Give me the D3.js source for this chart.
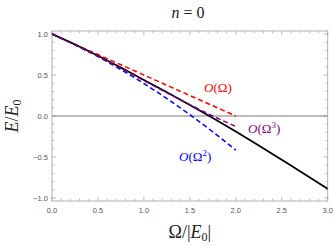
<!DOCTYPE html>
<html><head><meta charset="utf-8">
<script src="https://cdn.jsdelivr.net/npm/d3@7"></script>
<style>html,body{margin:0;padding:0;background:#fff;}svg{display:block;}</style>
</head><body>
<script>
// ---- data ----
const exactX = [0, 0.25, 0.5, 0.75, 1.0, 1.25, 1.5, 1.75, 2.0, 2.25, 2.5, 2.75, 3.0];
const exactY = [1.0, 0.872, 0.735, 0.59, 0.44, 0.29, 0.135, -0.025, -0.19, -0.36, -0.535, -0.71, -0.89];
const seriesX = [0, 0.25, 0.5, 0.75, 1.0, 1.25, 1.5, 1.75, 2.0];
const order1Y = [1.0, 0.875, 0.75, 0.625, 0.5, 0.375, 0.25, 0.125, 0.0];
const order2Y = [1.0, 0.8685, 0.724, 0.5665, 0.396, 0.2125, 0.016, -0.1935, -0.416];
const order3Y = [1.0, 0.869, 0.7285, 0.582, 0.432, 0.283, 0.138, 0.0, -0.128];
const xTicks = [0, 0.5, 1.0, 1.5, 2.0, 2.5, 3.0];
const yTicks = [-1.0, -0.5, 0.0, 0.5, 1.0];
const xTickLabels = ["0.0", "0.5", "1.0", "1.5", "2.0", "2.5", "3.0"];
const yTickLabels = ["\u22121.0", "\u22120.5", "0.0", "0.5", "1.0"];

const W = 334, H = 246;
const L = 52, R = 327.7, T = 31, B = 201;
const svg = d3.select("body").append("svg").attr("width", W).attr("height", H);
const x = d3.scaleLinear().domain([0, 3]).range([L, R]);
const y = d3.scaleLinear().domain([-1.037, 1.037]).range([B, T]);

const frameCol = "#a8a8a8";
// minor ticks
const xMinor = d3.range(0, 3.001, 0.1).filter(v => Math.abs(v*2 - Math.round(v*2)) > 1e-6);
const yMinor = d3.range(-1.0, 1.001, 0.1).filter(v => Math.abs(v*2 - Math.round(v*2)) > 1e-6);
const tg = svg.append("g").attr("stroke", frameCol).attr("stroke-width", 0.8);
xTicks.forEach(v => {
  tg.append("line").attr("x1", x(v)).attr("x2", x(v)).attr("y1", B).attr("y2", B-4);
  tg.append("line").attr("x1", x(v)).attr("x2", x(v)).attr("y1", T).attr("y2", T+4);
});
xMinor.forEach(v => {
  tg.append("line").attr("x1", x(v)).attr("x2", x(v)).attr("y1", B).attr("y2", B-2.2);
  tg.append("line").attr("x1", x(v)).attr("x2", x(v)).attr("y1", T).attr("y2", T+2.2);
});
yTicks.forEach(v => {
  tg.append("line").attr("x1", L).attr("x2", L+4).attr("y1", y(v)).attr("y2", y(v));
  tg.append("line").attr("x1", R).attr("x2", R-4).attr("y1", y(v)).attr("y2", y(v));
});
yMinor.forEach(v => {
  tg.append("line").attr("x1", L).attr("x2", L+2.2).attr("y1", y(v)).attr("y2", y(v));
  tg.append("line").attr("x1", R).attr("x2", R-2.2).attr("y1", y(v)).attr("y2", y(v));
});

// zero line
svg.append("line").attr("x1", L).attr("x2", R).attr("y1", y(0)).attr("y2", y(0))
  .attr("stroke", "#7a7a7a").attr("stroke-width", 1);

// frame
svg.append("rect").attr("x", L).attr("y", T).attr("width", R-L).attr("height", B-T)
  .attr("fill", "none").attr("stroke", frameCol).attr("stroke-width", 0.9);

// tick labels
const lab = svg.append("g").attr("font-family", "'Liberation Sans', Arial, sans-serif")
  .attr("font-size", 7.5).attr("fill", "#555");
xTicks.forEach((v, i) => lab.append("text").attr("x", x(v)).attr("y", B+12)
  .attr("text-anchor", "middle").text(xTickLabels[i]));
yTicks.forEach((v, i) => lab.append("text").attr("x", L-4).attr("y", y(v)+2.7)
  .attr("text-anchor", "end").text(yTickLabels[i]));

// curves
const clip = svg.append("clipPath").attr("id", "c").append("rect")
  .attr("x", L).attr("y", T).attr("width", R-L).attr("height", B-T);
const line = d3.line().x(d => x(d[0])).y(d => y(d[1])).curve(d3.curveMonotoneX);
const g = svg.append("g").attr("clip-path", "url(#c)").attr("fill", "none");
const zip = (xs, ys) => xs.map((v, i) => [v, ys[i]]);
g.append("path").attr("d", line(zip(seriesX, order1Y))).attr("stroke", "#ff0000")
  .attr("stroke-width", 1.5).attr("stroke-dasharray", "5,3");
g.append("path").attr("d", line(zip(seriesX, order2Y))).attr("stroke", "#0000ff")
  .attr("stroke-width", 1.5).attr("stroke-dasharray", "5,3");
g.append("path").attr("d", line(zip(exactX, exactY))).attr("stroke", "#000")
  .attr("stroke-width", 1.8);
g.append("path").attr("d", line(zip(seriesX, order3Y))).attr("stroke", "#800080")
  .attr("stroke-width", 1.5).attr("stroke-dasharray", "5,3");

// annotations
const serif = "'Liberation Serif', 'DejaVu Serif', serif";
function ann(tx, ty, col, sup) {
  const t = svg.append("text").attr("x", tx).attr("y", ty).attr("fill", col)
    .attr("font-family", serif).attr("font-size", 13);
  t.append("tspan").attr("font-style", "italic").text("O");
  t.append("tspan").text("(\u03A9");
  if (sup) t.append("tspan").attr("font-size", 9).attr("dy", -5).text(sup);
  t.append("tspan").attr("dy", sup ? 5 : 0).text(")");
}
ann(204, 92, "#ff0000", null);
ann(248, 133, "#800080", "3");
ann(179, 161, "#0000ff", "2");

// title
const ttl = svg.append("text").attr("x", 188).attr("y", 18).attr("text-anchor", "middle")
  .attr("font-family", serif).attr("font-size", 16).attr("fill", "#222");
ttl.append("tspan").attr("font-style", "italic").text("n");
ttl.append("tspan").text(" = 0");

// axis labels
const xl = svg.append("text").attr("x", (L+R)/2).attr("y", 238).attr("text-anchor", "middle")
  .attr("font-family", serif).attr("font-size", 18).attr("fill", "#222");
xl.append("tspan").text("\u03A9/|");
xl.append("tspan").attr("font-style", "italic").text("E");
xl.append("tspan").attr("font-size", 12).attr("dy", 3).text("0");
xl.append("tspan").attr("dy", -3).text("|");

const yl = svg.append("text").attr("transform", `translate(18,${(T+B)/2}) rotate(-90)`)
  .attr("text-anchor", "middle").attr("font-family", serif).attr("font-size", 18).attr("fill", "#222");
yl.append("tspan").attr("font-style", "italic").text("E");
yl.append("tspan").text("/");
yl.append("tspan").attr("font-style", "italic").text("E");
yl.append("tspan").attr("font-size", 12).attr("dy", 3).text("0");
</script>
</body></html>
